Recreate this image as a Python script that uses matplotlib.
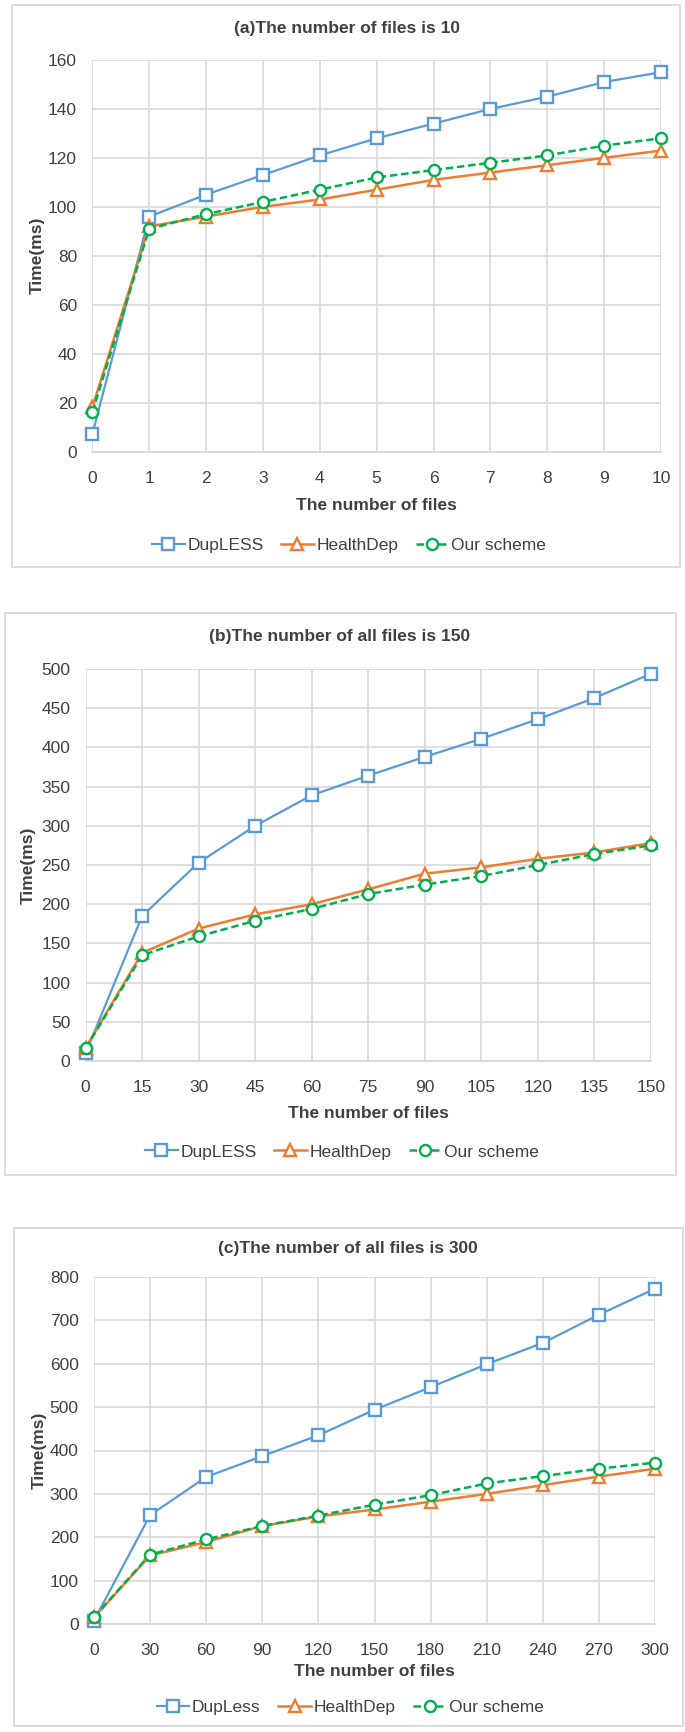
import matplotlib
matplotlib.use('Agg')
import matplotlib.pyplot as plt
from matplotlib.patches import Rectangle

plt.rcParams['font.family'] = ['Liberation Sans', 'DejaVu Sans']

W, H = 685, 1732

# panel (a)
files_a = [0, 1, 2, 3, 4, 5, 6, 7, 8, 9, 10]
dupless_a = [7, 96, 105, 113, 121, 128, 134, 140, 145, 151, 155]
health_a = [18, 92, 96, 100, 103, 107, 111, 114, 117, 120, 123]
ours_a = [16, 91, 97, 102, 107, 112, 115, 118, 121, 125, 128]

# panel (b)
files_b = [0, 15, 30, 45, 60, 75, 90, 105, 120, 135, 150]
dupless_b = [10, 185, 253, 300, 339, 364, 388, 411, 436, 463, 494]
health_b = [17, 138, 169, 187, 200, 219, 239, 247, 258, 266, 278]
ours_b = [16, 135, 159, 179, 194, 213, 225, 236, 250, 264, 275]

# panel (c)
files_c = [0, 30, 60, 90, 120, 150, 180, 210, 240, 270, 300]
dupless_c = [8, 251, 339, 387, 435, 494, 546, 599, 648, 713, 773]
health_c = [15, 158, 189, 226, 248, 264, 282, 300, 320, 340, 358]
ours_c = [16, 160, 195, 226, 250, 275, 297, 324, 341, 358, 372]

titles = ['(a)The number of files is 10',
          '(b)The number of all files is 150',
          '(c)The number of all files is 300']
names_a = ['DupLESS', 'HealthDep', 'Our scheme']
names_c = ['DupLess', 'HealthDep', 'Our scheme']

BLUE = '#5B9BD5'
ORANGE = '#ED7D31'
GREEN = '#00B050'
TXT = '#404040'
GRID = '#D9D9D9'

fig = plt.figure(figsize=(W / 100, H / 100), dpi=100)


def px_axes(l, t, r, b):
    return fig.add_axes([l / W, 1 - b / H, (r - l) / W, (b - t) / H])


def draw_panel(box, area, title_xy, legend_xy, ylab_x, xs, series, names, ymax, ystep):
    bx0, by0, bx1, by1 = box
    fig.patches.append(Rectangle((bx0 / W, 1 - by1 / H), (bx1 - bx0) / W, (by1 - by0) / H,
                                 transform=fig.transFigure, fill=False,
                                 edgecolor=GRID, linewidth=1.3))
    ax = px_axes(*area)
    d, h, o = series
    ax.plot(xs, d, color=BLUE, lw=1.6, marker='s', ms=8, mfc='white', mew=1.7,
            clip_on=False, zorder=3, label=names[0])
    ax.plot(xs, h, color=ORANGE, lw=1.8, marker='^', ms=8, mfc='white', mew=1.7,
            clip_on=False, zorder=4, label=names[1])
    ax.plot(xs, o, color=GREEN, lw=1.8, ls=(0, (3, 1.5)), marker='o', ms=8, mfc='white',
            mew=1.7, clip_on=False, zorder=5, label=names[2])
    ax.set_xlim(xs[0], xs[-1])
    ax.set_ylim(0, ymax)
    ax.set_xticks(xs)
    ax.set_yticks(range(0, ymax + 1, ystep))
    ax.grid(True, color=GRID, lw=1.2)
    ax.set_axisbelow(True)
    for s in ['top', 'right', 'left']:
        ax.spines[s].set_visible(False)
    ax.spines['bottom'].set_color(GRID)
    ax.spines['bottom'].set_linewidth(1.3)
    ax.tick_params(length=0, labelsize=12.5, labelcolor=TXT)
    ax.tick_params(axis='x', pad=14)
    ax.tick_params(axis='y', pad=11)
    l, t, r, b = area
    ax.set_xlabel('The number of files', fontsize=12.5, fontweight='bold', color=TXT)
    ax.xaxis.set_label_coords(0.5, (b - legend_xy[2]) / (b - t))
    ax.xaxis.label.set_va('center')
    ax.set_ylabel('Time(ms)', fontsize=12.5, fontweight='bold', color=TXT)
    ax.yaxis.set_label_coords((ylab_x - l) / (r - l), 0.5)
    ax.yaxis.label.set_va('center')
    fig.text(title_xy[0] / W, 1 - title_xy[1] / H, title_xy[2], ha='center', va='center',
             fontsize=12.5, fontweight='bold', color=TXT)
    ax.legend(loc='center', bbox_to_anchor=(legend_xy[0] / W, 1 - legend_xy[1] / H),
              bbox_transform=fig.transFigure, ncol=3, frameon=False, fontsize=12.5,
              handlelength=1.9, handletextpad=0.15, columnspacing=1.0,
              labelcolor=TXT)
    return ax


draw_panel((12, 5, 680, 567), (92.3, 60, 661, 451.5), (347, 28, titles[0]),
           (349, 545, 505), 37, files_a, (dupless_a, health_a, ours_a), names_a, 160, 20)
draw_panel((5, 613, 676, 1175), (85.6, 669, 651, 1061), (340, 637, titles[1]),
           (342, 1152, 1113), 28, files_b, (dupless_b, health_b, ours_b), names_a, 500, 50)
draw_panel((14, 1228, 683, 1726), (94, 1277, 655, 1624), (348, 1248, titles[2]),
           (350, 1707, 1671), 39, files_c, (dupless_c, health_c, ours_c), names_c, 800, 100)

fig.savefig('out.png', dpi=100, facecolor='white')
